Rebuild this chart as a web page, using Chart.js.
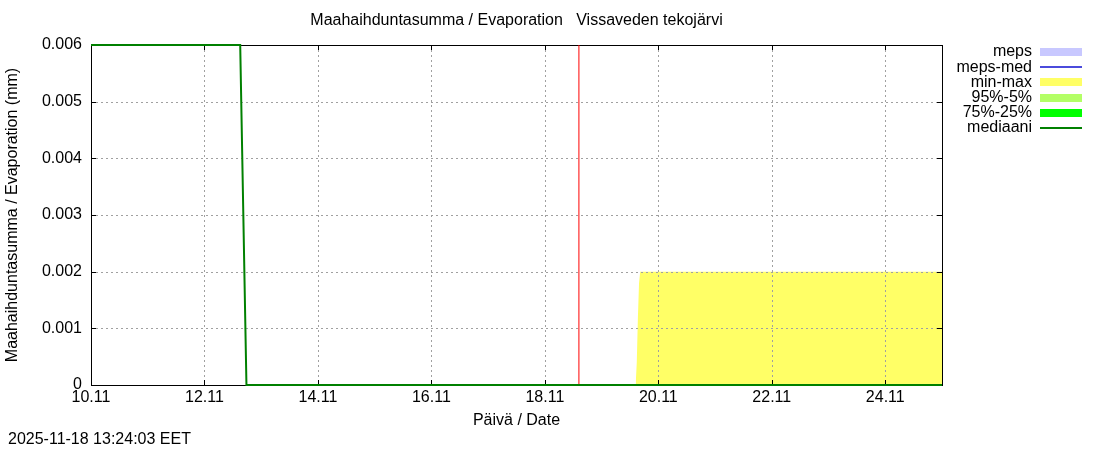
<!DOCTYPE html>
<html>
<head>
<meta charset="utf-8">
<script src="https://cdn.jsdelivr.net/npm/chart.js@4.4.1/dist/chart.umd.min.js"></script>
<style>
  html, body { margin: 0; padding: 0; background: #fff; }
  #wrap { width: 1100px; height: 450px; }
</style>
</head>
<body>
<div id="wrap"><canvas id="evapChart" width="1100" height="450"></canvas></div>
<script>
// päivät lasketaan 10.11 klo 00 alkaen
const dayTicks = [0, 2, 4, 6, 8, 10, 12, 14];
const dayLabels = ['10.11', '12.11', '14.11', '16.11', '18.11', '20.11', '22.11', '24.11'];
const yTicks = [0, 0.001, 0.002, 0.003, 0.004, 0.005, 0.006];
const yLabels = ['0', '0.001', '0.002', '0.003', '0.004', '0.005', '0.006'];

const medianDays = [0, 2.63, 2.74, 15];
const medianVals = [0.006, 0.006, 0, 0];

const minmaxDays = [9.6, 9.62, 9.64, 9.66, 9.68, 15];
const minmaxVals = [0, 0.0004, 0.0012, 0.0018, 0.002, 0.002];

const nowDay = 8.6;

const legendLabels = ['meps', 'meps-med', 'min-max', '95%-5%', '75%-25%', 'mediaani'];
const legendColors = ['#c8c8ff', '#4b4bdc', '#ffff66', '#b3ff66', '#00ff00', '#008000'];
const legendThick = [8, 2, 8, 8, 8, 2];

const FONT = '16px "Liberation Sans", Arial, sans-serif';

function pts(xs, ys) {
    return xs.map(function(x, i) { return { x: x, y: ys[i] }; });
}

// gnuplot-tyylinen ruudukko, kehys ja sisäänpäin olevat tikit
// piirretään keltaisen alueen päälle mutta viivojen alle
const decorPlugin = {
    id: 'decor',
    afterDatasetDraw(chart, args) {
        if (args.index !== 2) return;
        const ctx = chart.ctx;
        const a = chart.chartArea;
        const xs = chart.scales.x;
        const ys = chart.scales.y;
        ctx.save();
        ctx.strokeStyle = '#a0a0a0';
        ctx.lineWidth = 1;
        ctx.setLineDash([2, 3]);
        dayTicks.forEach(function(d) {
            const px = Math.round(xs.getPixelForValue(d)) + 0.5;
            if (d === 0) return;
            ctx.beginPath();
            ctx.moveTo(px, a.top);
            ctx.lineTo(px, a.bottom);
            ctx.stroke();
        });
        yTicks.forEach(function(v) {
            const py = Math.round(ys.getPixelForValue(v)) + 0.5;
            if (v === 0 || v === 0.006) return;
            ctx.beginPath();
            ctx.moveTo(a.left, py);
            ctx.lineTo(a.right, py);
            ctx.stroke();
        });
        ctx.setLineDash([]);
        ctx.strokeStyle = '#000';
        ctx.strokeRect(Math.round(a.left) + 0.5, Math.round(a.top) + 0.5,
            Math.round(a.right - a.left), Math.round(a.bottom - a.top));
        ctx.beginPath();
        dayTicks.forEach(function(d) {
            const px = Math.round(xs.getPixelForValue(d)) + 0.5;
            ctx.moveTo(px, a.bottom);
            ctx.lineTo(px, a.bottom - 5);
            ctx.moveTo(px, a.top);
            ctx.lineTo(px, a.top + 5);
        });
        yTicks.forEach(function(v) {
            const py = Math.round(ys.getPixelForValue(v)) + 0.5;
            ctx.moveTo(a.left, py);
            ctx.lineTo(a.left + 5, py);
            ctx.moveTo(a.right, py);
            ctx.lineTo(a.right - 5, py);
        });
        ctx.stroke();
        ctx.restore();
    },
    afterDraw(chart) {
        const ctx = chart.ctx;
        const a = chart.chartArea;
        const mid = (a.left + a.right) / 2;
        ctx.save();
        ctx.fillStyle = '#000';
        ctx.font = FONT;
        ctx.textBaseline = 'middle';
        ctx.textAlign = 'center';
        ctx.fillText('Maahaihduntasumma / Evaporation   Vissaveden tekojärvi', mid, 21);
        ctx.fillText('Päivä / Date', mid, 421);
        ctx.textAlign = 'left';
        ctx.fillText('2025-11-18 13:24:03 EET', 8, 440);
        ctx.save();
        ctx.translate(13, (a.top + a.bottom) / 2);
        ctx.rotate(-Math.PI / 2);
        ctx.textAlign = 'center';
        ctx.fillText('Maahaihduntasumma / Evaporation (mm)', 0, 0);
        ctx.restore();
        // selite
        legendLabels.forEach(function(lbl, i) {
            const y = 52 + i * 15.2;
            ctx.textAlign = 'right';
            ctx.fillStyle = '#000';
            ctx.fillText(lbl, 1032, y);
            ctx.fillStyle = legendColors[i];
            const t = legendThick[i];
            ctx.fillRect(1040, Math.round(y - t / 2), 42, t);
        });
        ctx.restore();
    }
};

function createEvapChart() {
    const ctx = document.getElementById('evapChart').getContext('2d');
    new Chart(ctx, {
        type: 'line',
        data: {
            datasets: [{
                label: 'mediaani',
                data: pts(medianDays, medianVals),
                borderColor: '#008000',
                borderWidth: 2,
                pointRadius: 0,
                fill: false,
                clip: false,
                order: 1
            }, {
                label: 'nyt',
                data: pts([nowDay, nowDay], [0, 0.006]),
                borderColor: '#ff0000',
                borderWidth: 1,
                pointRadius: 0,
                fill: false,
                order: 2
            }, {
                label: 'min-max',
                data: pts(minmaxDays, minmaxVals),
                borderColor: 'rgba(0,0,0,0)',
                borderWidth: 0,
                backgroundColor: '#ffff66',
                pointRadius: 0,
                fill: 'origin',
                order: 3
            }]
        },
        options: {
            responsive: false,
            animation: false,
            layout: { padding: { left: 0, top: 45, right: 158, bottom: 0 } },
            plugins: {
                legend: { display: false },
                tooltip: { enabled: false }
            },
            scales: {
                x: {
                    type: 'linear',
                    min: 0,
                    max: 15,
                    afterBuildTicks: function(scale) {
                        scale.ticks = dayTicks.map(function(v) { return { value: v }; });
                    },
                    afterFit: function(scale) { scale.height = 65; },
                    ticks: {
                        maxRotation: 0,
                        padding: 3,
                        color: '#000',
                        font: { family: '"Liberation Sans", Arial, sans-serif', size: 16 },
                        callback: function(v) {
                            const i = dayTicks.indexOf(v);
                            return i >= 0 ? dayLabels[i] : '';
                        }
                    },
                    grid: { display: false, drawTicks: false },
                    border: { display: false }
                },
                y: {
                    min: 0,
                    max: 0.006,
                    afterBuildTicks: function(scale) {
                        scale.ticks = yTicks.map(function(v) { return { value: v }; });
                    },
                    afterFit: function(scale) { scale.width = 91; },
                    ticks: {
                        padding: 9,
                        color: '#000',
                        font: { family: '"Liberation Sans", Arial, sans-serif', size: 16 },
                        callback: function(v) {
                            const i = yTicks.findIndex(function(t) { return Math.abs(t - v) < 1e-9; });
                            return i >= 0 ? yLabels[i] : '';
                        }
                    },
                    grid: { display: false, drawTicks: false },
                    border: { display: false }
                }
            }
        },
        plugins: [decorPlugin]
    });
}

createEvapChart();
</script>
</body>
</html>
